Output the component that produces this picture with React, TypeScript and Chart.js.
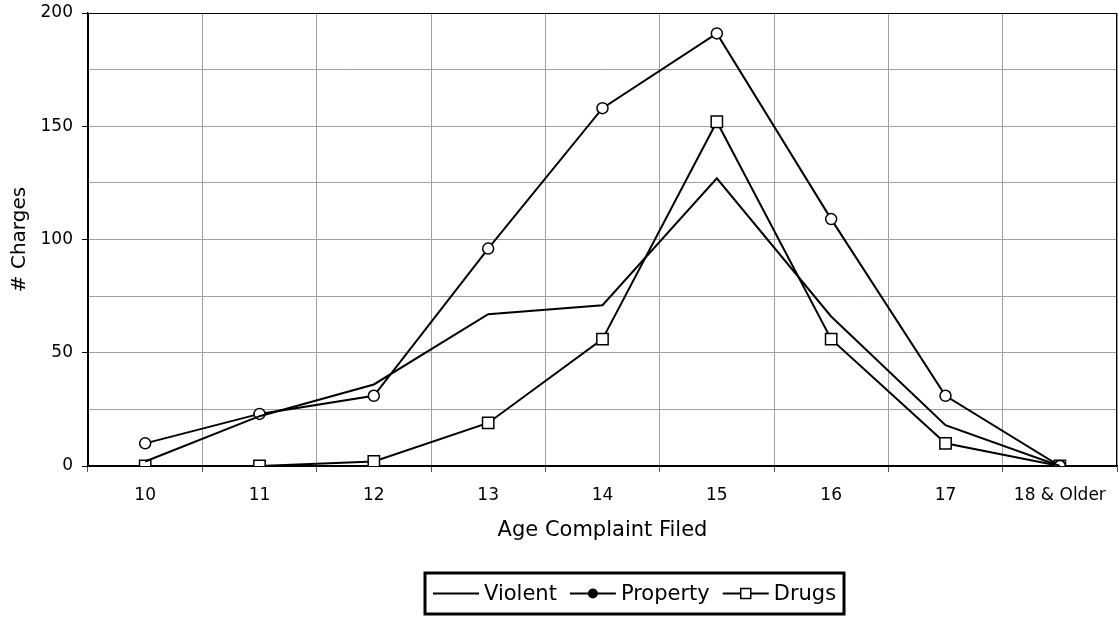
import React, { useEffect, useRef } from 'react';
import { Chart, registerables } from 'chart.js';

Chart.register(...registerables);

const ageCategories = ['10', '11', '12', '13', '14', '15', '16', '17', '18 & Older'];
const violentCharges = [2, 22, 36, 67, 71, 127, 66, 18, 0];
const propertyCharges = [10, 23, 31, 96, 158, 191, 109, 31, 0];
const drugsCharges = [0, 0, 2, 19, 56, 152, 56, 10, 0];
const yLabeledTicks = [0, 50, 100, 150, 200];
const legendLabels = ['Violent', 'Property', 'Drugs'];
const xTitle = 'Age Complaint Filed';
const yTitle = '# Charges';

const FONT = '"DejaVu Sans", "Liberation Sans", sans-serif';

const framePlugin = {
  id: 'frame',
  beforeDatasetsDraw(chart: any) {
    const { ctx, chartArea } = chart;
    ctx.save();
    ctx.strokeStyle = '#000';
    ctx.lineWidth = 1;
    ctx.strokeRect(
      Math.round(chartArea.left) + 0.5,
      Math.round(chartArea.top) + 0.5,
      Math.round(chartArea.right - chartArea.left) - 1,
      Math.round(chartArea.bottom - chartArea.top)
    );
    ctx.restore();
  },
};

const legendPlugin = {
  id: 'boxLegend',
  afterDraw(chart: any) {
    const { ctx } = chart;
    ctx.save();
    ctx.font = `21px ${FONT}`;
    const sampleW = 46;
    const gapText = 5;
    const gapItem = 13;
    const padX = 8;
    const widths = legendLabels.map((l) => ctx.measureText(l).width);
    let total = padX * 2;
    widths.forEach((w, i) => {
      total += sampleW + gapText + w + (i < widths.length - 1 ? gapItem : 0);
    });
    const cx = 635;
    const boxTop = 573;
    const boxH = 41;
    const boxLeft = Math.round(cx - total / 2);
    const cy = boxTop + boxH / 2;
    ctx.lineWidth = 3;
    ctx.strokeStyle = '#000';
    ctx.strokeRect(boxLeft, boxTop, Math.round(total), boxH);
    let x = boxLeft + padX;
    ctx.fillStyle = '#000';
    ctx.textBaseline = 'middle';
    ctx.textAlign = 'left';
    legendLabels.forEach((label, i) => {
      ctx.lineWidth = 2;
      ctx.beginPath();
      ctx.moveTo(x, cy);
      ctx.lineTo(x + sampleW, cy);
      ctx.stroke();
      const mx = x + sampleW / 2;
      if (i === 1) {
        ctx.beginPath();
        ctx.arc(mx, cy, 5, 0, Math.PI * 2);
        ctx.fillStyle = '#000';
        ctx.fill();
      } else if (i === 2) {
        ctx.fillStyle = '#fff';
        ctx.fillRect(mx - 5, cy - 5, 10, 10);
        ctx.lineWidth = 1.5;
        ctx.strokeRect(mx - 5, cy - 5, 10, 10);
      }
      ctx.fillStyle = '#000';
      ctx.fillText(label, x + sampleW + gapText, cy + 1);
      x += sampleW + gapText + widths[i] + gapItem;
    });
    ctx.restore();
  },
};

export default function App() {
  const canvasRef = useRef<HTMLCanvasElement | null>(null);

  useEffect(() => {
    if (!canvasRef.current) return;
    const chart = new Chart(canvasRef.current, {
      type: 'line',
      data: {
        labels: ageCategories,
        datasets: [
          {
            label: legendLabels[0],
            data: violentCharges,
            borderColor: '#000',
            borderWidth: 2,
            pointRadius: 0,
            fill: false,
            tension: 0,
          },
          {
            label: legendLabels[1],
            data: propertyCharges,
            borderColor: '#000',
            borderWidth: 2,
            pointStyle: 'circle',
            pointRadius: 5.5,
            pointBackgroundColor: '#fff',
            pointBorderColor: '#000',
            pointBorderWidth: 1.5,
            fill: false,
            tension: 0,
          },
          {
            label: legendLabels[2],
            data: drugsCharges,
            borderColor: '#000',
            borderWidth: 2,
            pointStyle: 'rect',
            pointRadius: 8,
            pointBackgroundColor: '#fff',
            pointBorderColor: '#000',
            pointBorderWidth: 1.5,
            fill: false,
            tension: 0,
          },
        ],
      },
      options: {
        animation: false,
        responsive: true,
        maintainAspectRatio: false,
        layout: { autoPadding: false, padding: { top: 13, right: 1, bottom: 71, left: 0 } },
        plugins: {
          legend: { display: false },
          tooltip: { enabled: false },
        },
        scales: {
          x: {
            type: 'category',
            offset: true,
            grid: {
              offset: true,
              color: '#a0a0a0',
              lineWidth: 1,
              tickLength: 6,
              tickColor: '#555',
            },
            border: { color: '#000', width: 1.5 },
            ticks: {
              color: '#000',
              font: { family: FONT, size: 17 },
              padding: 13,
              autoSkip: false,
              maxRotation: 0,
            },
            title: {
              display: true,
              text: xTitle,
              color: '#000',
              font: { family: FONT, size: 21 },
              padding: { top: 4, bottom: 3 },
            },
            afterFit: (scale: any) => {
              scale.height = 80;
              scale.paddingLeft = 0;
              scale.paddingRight = 0;
            },
          },
          y: {
            min: 0,
            max: 200,
            grid: {
              color: '#a0a0a0',
              lineWidth: 1,
              tickLength: 6,
              tickColor: (ctx: any) =>
                ctx.tick && yLabeledTicks.includes(ctx.tick.value) ? '#000' : 'rgba(0,0,0,0)',
            },
            border: { color: '#000', width: 1.5 },
            ticks: {
              stepSize: 25,
              color: '#000',
              font: { family: FONT, size: 17 },
              padding: 9,
              callback: (v: any) => (yLabeledTicks.includes(Number(v)) ? String(v) : ''),
            },
            title: {
              display: true,
              text: yTitle,
              color: '#000',
              font: { family: FONT, size: 20 },
              padding: { top: 8, bottom: 0 },
            },
            afterFit: (scale: any) => {
              scale.width = 88;
              scale.paddingTop = 0;
              scale.paddingBottom = 0;
            },
          },
        },
      },
      plugins: [framePlugin, legendPlugin],
    });
    return () => chart.destroy();
  }, []);

  return (
    <div
      style={{
        position: 'fixed',
        left: 0,
        top: 0,
        width: 1118,
        height: 617,
        background: '#fff',
      }}
    >
      <canvas ref={canvasRef} />
    </div>
  );
}
